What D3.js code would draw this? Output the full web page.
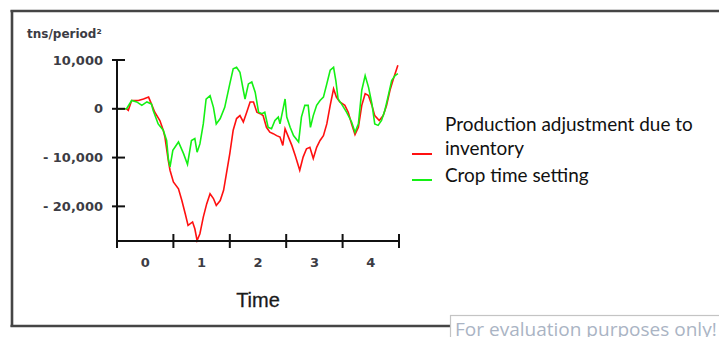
<!DOCTYPE html>
<html><head><meta charset="utf-8">
<script src="https://cdn.jsdelivr.net/npm/d3@7"></script>
<style>html,body{margin:0;padding:0;background:#fff;overflow:hidden}</style>
</head><body>
<svg id="c" width="719" height="337"></svg>
<script>
// ---- data ----
const unitLabel = "tns/period²";
const xAxisTitle = "Time";
const periodLabels = ["0", "1", "2", "3", "4"];
const yTickValues = [10000, 0, -10000, -20000];
const seriesNames = ["Production adjustment due to inventory", "Crop time setting"];

const redTime = [0,0.17,0.20,0.26,0.38,0.47,0.56,0.61,0.67,0.76,0.82,0.85,0.91,0.94,1.00,1.09,1.15,1.21,1.26,1.34,1.38,1.42,1.47,1.53,1.59,1.65,1.71,1.76,1.83,1.89,1.94,2.00,2.06,2.12,2.18,2.24,2.30,2.36,2.42,2.48,2.54,2.59,2.65,2.71,2.77,2.83,2.89,2.94,2.98,3.04,3.10,3.16,3.24,3.30,3.36,3.42,3.48,3.54,3.60,3.66,3.72,3.78,3.84,3.89,3.95,4.04,4.10,4.16,4.22,4.28,4.34,4.40,4.46,4.52,4.57,4.65,4.72,4.78,4.84,4.90,4.98];
const redValue = [0,0,-300,1700,1700,2000,2400,1000,-700,-2400,-4400,-5800,-10600,-12600,-15000,-16400,-18800,-21500,-23900,-23200,-24600,-27000,-25600,-22200,-19500,-17400,-18400,-19800,-18800,-16700,-13300,-9200,-4400,-2000,-1400,-2700,-700,1400,1400,-700,-1000,-1400,-3800,-4800,-5100,-5500,-5800,-7500,-4100,-5800,-7500,-9600,-12600,-9900,-8200,-7900,-10200,-7900,-6500,-5500,-3100,700,4100,2400,1400,700,-700,-3100,-5300,-3800,700,3100,2700,700,-1400,-2400,-1400,700,3800,6100,8900];

const greenTime = [0,0.17,0.26,0.35,0.44,0.53,0.61,0.64,0.73,0.82,0.88,0.91,0.94,0.99,1.09,1.18,1.25,1.32,1.38,1.42,1.47,1.53,1.58,1.65,1.71,1.76,1.83,1.91,2.00,2.06,2.12,2.18,2.24,2.27,2.33,2.39,2.45,2.51,2.57,2.62,2.68,2.74,2.80,2.86,2.89,2.95,2.98,3.01,3.07,3.13,3.22,3.27,3.33,3.39,3.43,3.48,3.54,3.60,3.66,3.72,3.78,3.84,3.88,3.92,3.98,4.07,4.16,4.22,4.28,4.34,4.40,4.46,4.52,4.57,4.63,4.69,4.75,4.81,4.87,4.93,4.98];
const greenValue = [0,0,1700,1400,700,1400,1000,-300,-3100,-4400,-6500,-10200,-11900,-8500,-6800,-9200,-11400,-6500,-6100,-8900,-7200,-3100,2000,2700,300,-3100,-2000,300,5100,8200,8500,7500,3800,2000,5100,5500,3400,-700,-1000,-700,-3800,-4100,-2400,-1700,-3100,300,2000,-1700,-3800,-5500,-6800,-1700,700,700,-3800,-1400,700,1700,2400,5100,7900,8500,5800,2000,1000,-700,-2700,-4800,-3100,3800,6800,4400,1000,-3100,-3400,-2400,-300,2700,5800,6800,7200];

const svg = d3.select("#c");

// frame
const frame = svg.append("g").attr("stroke", "#454545").attr("stroke-width", 2.6).attr("fill", "none");
frame.append("line").attr("x1", 10.5).attr("y1", 11).attr("x2", 719).attr("y2", 11);
frame.append("line").attr("x1", 12).attr("y1", 10).attr("x2", 12).attr("y2", 327);
frame.append("line").attr("x1", 10.5).attr("y1", 326).attr("x2", 451).attr("y2", 326);

// scales
const x = d3.scaleLinear().domain([0, 5]).range([117, 399]);
const y = d3.scaleLinear().domain([-27100, 10000]).range([241, 60]);

// lines
const line = d3.line().x(d => x(d[0])).y(d => y(d[1]));
const redData = redTime.map((t, i) => [t, redValue[i]]);
const greenData = greenTime.map((t, i) => [t, greenValue[i]]);
svg.append("path").datum(redData).attr("d", line).attr("fill", "none")
  .attr("stroke", "#ff1010").attr("stroke-width", 1.6).attr("stroke-linejoin", "miter");
svg.append("path").datum(greenData).attr("d", line).attr("fill", "none")
  .attr("stroke", "#14f014").attr("stroke-width", 1.6).attr("stroke-linejoin", "miter");

// axes
const axG = svg.append("g").attr("stroke", "#111").attr("stroke-width", 2);
axG.append("line").attr("x1", x(0)).attr("x2", x(0)).attr("y1", y(10000)).attr("y2", y.range()[0]);
axG.append("line").attr("x1", x(0)).attr("x2", x(5)).attr("y1", y.range()[0]).attr("y2", y.range()[0]);
yTickValues.forEach(v => {
  axG.append("line").attr("x1", x(0) - 5).attr("x2", x(0) + 8).attr("y1", y(v)).attr("y2", y(v));
});
d3.range(0, 6).forEach(t => {
  axG.append("line").attr("x1", x(t)).attr("x2", x(t)).attr("y1", y.range()[0] - 7).attr("y2", y.range()[0] + 7);
});

const fmt = d => d3.format(",")(d).replace("−", "- ");
svg.append("g").selectAll("text").data(yTickValues).join("text")
  .attr("x", 103).attr("y", d => y(d)).attr("dy", "0.36em")
  .attr("text-anchor", "end").attr("font-family", "DejaVu Sans").attr("font-weight", "bold")
  .attr("font-size", 13).attr("fill", "#3c3c44").attr("xml:space", "preserve").text(d => fmt(d));

svg.append("g").selectAll("text").data(periodLabels).join("text")
  .attr("x", (d, i) => x(i + 0.5)).attr("y", 262).attr("dy", "0.36em")
  .attr("text-anchor", "middle").attr("font-family", "DejaVu Sans").attr("font-weight", "bold")
  .attr("font-size", 13).attr("fill", "#3c3c44").text(d => d);

svg.append("text").attr("x", 27).attr("y", 38).attr("font-family", "DejaVu Sans")
  .attr("font-weight", "bold").attr("font-size", 12).attr("fill", "#3c3c44").text(unitLabel);

svg.append("text").attr("x", 258).attr("y", 307).attr("text-anchor", "middle")
  .attr("font-family", "Liberation Sans, Arial").attr("font-size", 20).attr("fill", "#1a1a1a")
  .attr("stroke", "#1a1a1a").attr("stroke-width", 0.3).text(xAxisTitle);

// legend
function fit(sel, target) {
  const w = sel.node().getComputedTextLength();
  const fs = parseFloat(sel.attr("font-size"));
  sel.attr("font-size", fs * target / w);
}
const lg = svg.append("g").attr("font-family", "Lato").attr("fill", "#111");
const l1 = lg.append("text").attr("x", 445).attr("y", 131).attr("font-size", 17).text("Production adjustment due to");
fit(l1, 248);
const fsL = l1.attr("font-size");
lg.append("text").attr("x", 445).attr("y", 155).attr("font-size", fsL).text("inventory");
lg.append("text").attr("x", 445).attr("y", 182).attr("font-size", fsL).text("Crop time setting");
svg.append("line").attr("x1", 412).attr("x2", 432).attr("y1", 154).attr("y2", 154).attr("stroke", "#ff1010").attr("stroke-width", 2);
svg.append("line").attr("x1", 412).attr("x2", 432).attr("y1", 180).attr("y2", 180).attr("stroke", "#14f014").attr("stroke-width", 2);

// evaluation stamp
svg.append("rect").attr("x", 450.5).attr("y", 315.5).attr("width", 300).attr("height", 40)
  .attr("fill", "#fff").attr("stroke", "#c4c4c4").attr("stroke-width", 1.2);
const ev = svg.append("text").attr("x", 455).attr("y", 336).attr("font-family", "Open Sans")
  .attr("font-size", 16).attr("fill", "#aab4c4").text("For evaluation purposes only!");
fit(ev, 262);
</script>
</body></html>
